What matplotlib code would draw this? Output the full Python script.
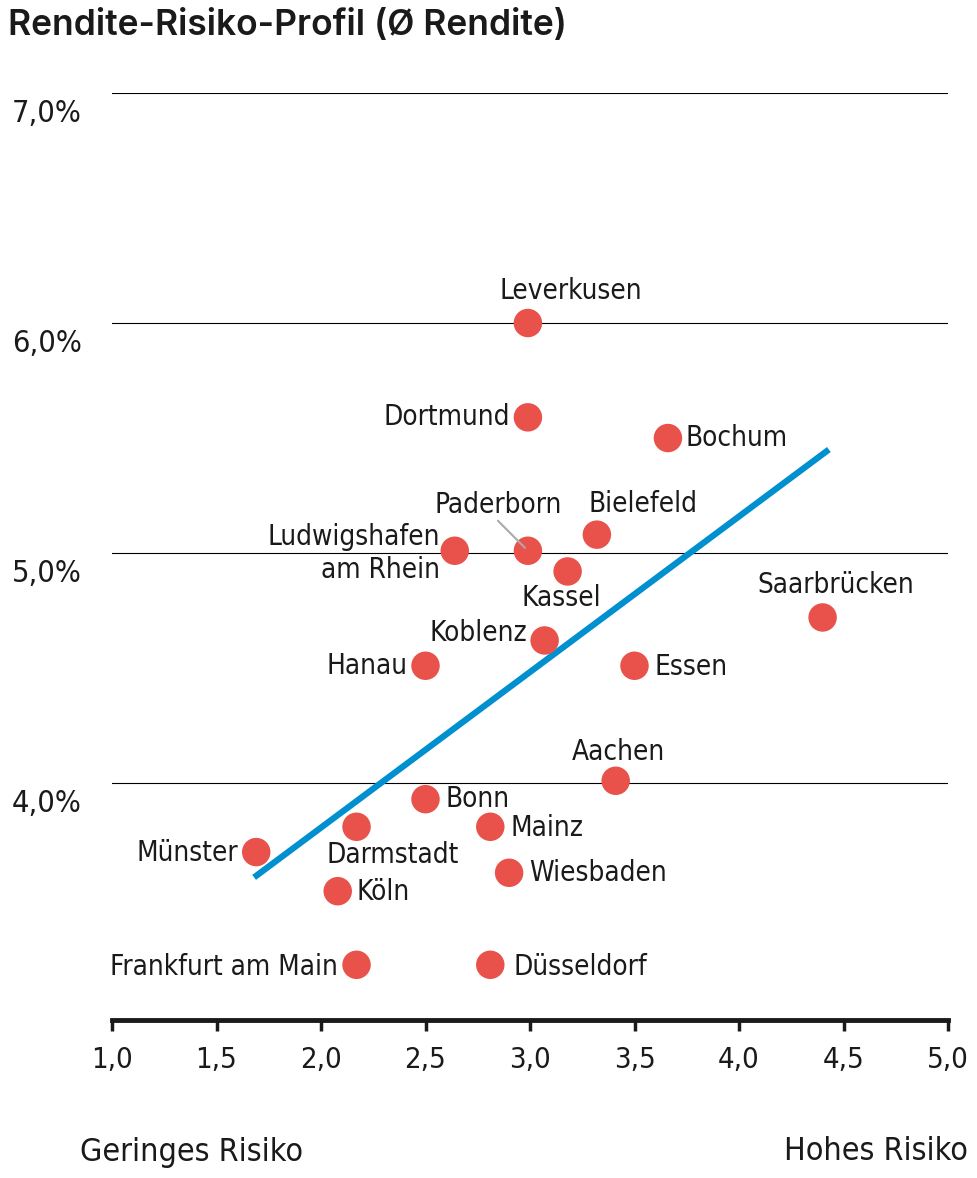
import matplotlib.pyplot as plt
from matplotlib import font_manager

# data
cities = ['Leverkusen', 'Dortmund', 'Bochum', 'Paderborn', 'Bielefeld',
          'Ludwigshafen\nam Rhein', 'Kassel', 'Saarbrücken', 'Koblenz', 'Hanau',
          'Essen', 'Aachen', 'Bonn', 'Darmstadt', 'Mainz', 'Münster',
          'Wiesbaden', 'Köln', 'Frankfurt am Main', 'Düsseldorf']
risk = [2.99, 2.99, 3.66, 2.99, 3.32, 2.64, 3.18, 4.40, 3.07, 2.50,
        3.50, 3.41, 2.50, 2.17, 2.81, 1.69, 2.90, 2.08, 2.17, 2.81]
rendite = [6.00, 5.59, 5.50, 5.01, 5.08, 5.01, 4.92, 4.72, 4.62, 4.51,
           4.51, 4.01, 3.93, 3.81, 3.81, 3.70, 3.61, 3.53, 3.21, 3.21]
trend_x = [1.68, 4.43]
trend_y = [3.59, 5.45]
y_ticks = [4.0, 5.0, 6.0, 7.0]
y_labels = ['4,0%', '5,0%', '6,0%', '7,0%']
x_ticks = [1.0, 1.5, 2.0, 2.5, 3.0, 3.5, 4.0, 4.5, 5.0]
x_labels = ['1,0', '1,5', '2,0', '2,5', '3,0', '3,5', '4,0', '4,5', '5,0']

# label placement (pixel offsets from the dot, alignment)
label_pos = {
    'Leverkusen': (43, 32, 'center'),
    'Dortmund': (-18, 0, 'right'),
    'Bochum': (18, 0, 'left'),
    'Paderborn': (-30, 46, 'center'),
    'Bielefeld': (46, 31, 'center'),
    'Ludwigshafen\nam Rhein': (-15, -3, 'right'),
    'Kassel': (-6, -27, 'center'),
    'Saarbrücken': (13, 32, 'center'),
    'Koblenz': (-17, 7, 'right'),
    'Hanau': (-18, 0, 'right'),
    'Essen': (20, -1, 'left'),
    'Aachen': (3, 29, 'center'),
    'Bonn': (20, 0, 'left'),
    'Darmstadt': (36, -28, 'center'),
    'Mainz': (20, -1, 'left'),
    'Münster': (-18, -1, 'right'),
    'Wiesbaden': (20, 0, 'left'),
    'Köln': (19, -1, 'left'),
    'Frankfurt am Main': (-19, -2, 'right'),
    'Düsseldorf': (23, -2, 'left'),
}

names = {f.name for f in font_manager.fontManager.ttflist}
if 'Liberation Sans Narrow' in names:
    plt.rcParams['font.family'] = ['Liberation Sans Narrow', 'DejaVu Sans']
    stretch = 'normal'
else:
    plt.rcParams['font.family'] = ['DejaVu Sans']
    stretch = 'condensed'

fig = plt.figure(figsize=(9.78, 11.78), dpi=100)
ax = fig.add_axes([112 / 978, 158 / 1178, 836 / 978, 927 / 1178])
ax.set_xlim(1.0, 5.0)
ax.set_ylim(2.97, 7.0)

for v in y_ticks:
    ax.axhline(v, color='black', lw=0.8, zorder=1)

ax.plot(trend_x, trend_y, color='#0090cf', lw=4.5, solid_capstyle='butt', zorder=2)
ax.scatter(risk, rendite, s=420, color='#e8524a', edgecolors='none', zorder=3)

for name, x, y in zip(cities, risk, rendite):
    dx, dy, ha = label_pos[name]
    ax.annotate(name, xy=(x, y), xytext=(dx, dy), textcoords='offset pixels',
                ha=ha, va='center', fontsize=20, fontstretch=stretch,
                color='#1a1a1a', linespacing=1.25, zorder=4)

# leader line for Paderborn
ax.annotate('', xy=(2.99, 5.01), xytext=(-30, 30), textcoords='offset pixels',
            arrowprops=dict(arrowstyle='-', color='#aaaaaa', lw=1.5,
                            shrinkA=0, shrinkB=3), zorder=4)

for v, lab in zip(y_ticks, y_labels):
    ax.annotate(lab, xy=(0, v), xycoords=('figure fraction', 'data'),
                xytext=(12, -20), textcoords='offset pixels',
                ha='left', va='center', fontsize=22, fontstretch=stretch,
                color='#1a1a1a')

ax.set_yticks([])
ax.set_xticks(x_ticks)
ax.set_xticklabels(x_labels, fontsize=21, fontstretch=stretch, color='#1a1a1a')
ax.tick_params(axis='x', direction='out', length=8, width=2.5, pad=11,
               color='#1a1a1a')
for s in ['top', 'right', 'left']:
    ax.spines[s].set_visible(False)
ax.spines['bottom'].set_linewidth(3.5)
ax.spines['bottom'].set_color('#1a1a1a')
ax.spines['bottom'].set_capstyle('projecting')

fig.text(8 / 978, 1 - 25 / 1178, 'Rendite-Risiko-Profil (Ø Rendite)',
         family=['Inter', 'DejaVu Sans'], fontweight='semibold', fontsize=25.5,
         ha='left', va='center', color='#1a1a1a')
fig.text(80 / 978, 1 - 1152 / 1178, 'Geringes Risiko', fontsize=23,
         fontstretch=stretch, ha='left', va='center', color='#1a1a1a')
fig.text(968 / 978, 1 - 1152 / 1178, 'Hohes Risiko', fontsize=23,
         fontstretch=stretch, ha='right', va='center', color='#1a1a1a')

fig.savefig('out.png', dpi=100, facecolor='white')
